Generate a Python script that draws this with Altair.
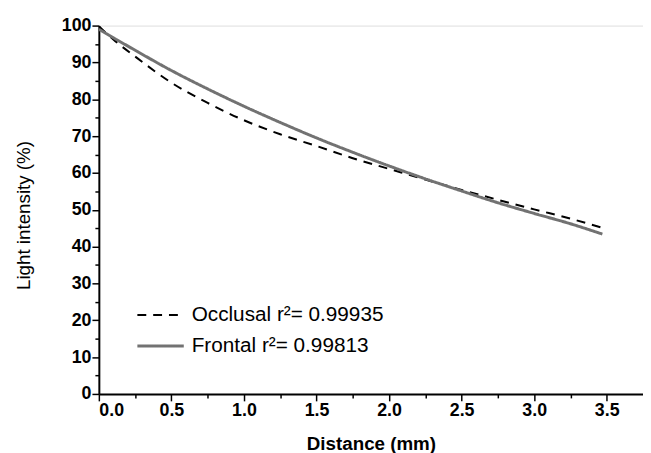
import altair as alt
import pandas as pd

# Data
distance = [0.0, 0.1, 0.25, 0.5, 0.75, 1.0, 1.25, 1.5, 1.75, 2.0, 2.25, 2.5, 2.75, 3.0, 3.25, 3.47]
occlusal = [99.8, 96.2, 91.6, 84.5, 79.0, 74.3, 70.5, 67.3, 64.0, 61.1, 58.2, 55.4, 52.7, 50.1, 47.6, 45.1]
frontal = [99.0, 96.7, 93.3, 87.8, 82.8, 78.1, 73.7, 69.5, 65.6, 61.9, 58.4, 55.1, 51.9, 49.0, 46.2, 43.4]
series_labels = ["Occlusal r\u00b2= 0.99935", "Frontal r\u00b2= 0.99813"]

x_ticks = [0.0, 0.25, 0.5, 0.75, 1.0, 1.25, 1.5, 1.75, 2.0, 2.25, 2.5, 2.75, 3.0, 3.25, 3.5]
y_ticks = list(range(0, 101, 5))

rows = []
for d, o, f in zip(distance, occlusal, frontal):
    rows.append({"distance": d, "intensity": o, "series": series_labels[0]})
    rows.append({"distance": d, "intensity": f, "series": series_labels[1]})
df = pd.DataFrame(rows)

FONT = "Liberation Sans"

legend = alt.Legend(
    title=None,
    orient="none",
    legendX=49,
    legendY=280,
    symbolType="M-2,0H2",
    symbolSize=552,
    labelOffset=18,
    labelFont=FONT,
    labelFontSize=21,
    labelColor="black",
    labelLimit=500,
    rowPadding=8,
    padding=0,
)

x_axis = alt.Axis(
    values=x_ticks,
    labelExpr="round(datum.value*100) % 50 === 0 ? format(datum.value, '.1f') : ''",
    tickSize={"condition": {"test": "round(datum.value*100) % 50 === 0", "value": 7}, "value": 4},
    tickWidth=1.5,
    tickColor="black",
    domainColor="black",
    domainWidth=2,
    labelFont=FONT,
    labelFontWeight="bold",
    labelFontSize=18,
    labelColor="black",
    labelPadding=1,
    grid=False,
    title="Distance (mm)",
    titleFont=FONT,
    titleFontSize=19,
    titleFontWeight="bold",
    titleColor="black",
    titleX=275.5,
    titleY=41,
    titleBaseline="top",
    titleAlign="center",
)

y_axis = alt.Axis(
    values=y_ticks,
    labelExpr="datum.value % 10 === 0 ? datum.label : ''",
    tickSize={"condition": {"test": "datum.value % 10 === 0", "value": 7}, "value": 4},
    tickWidth=1.5,
    tickColor="black",
    domainColor="black",
    domainWidth=2,
    labelFont=FONT,
    labelFontWeight="bold",
    labelFontSize=18,
    labelColor="black",
    labelPadding=1,
    grid=False,
    format="d",
    title="Light intensity (%)",
    titleFont=FONT,
    titleFontSize=19,
    titleFontWeight="normal",
    titleColor="black",
    titleX=-76.6,
    titleY=191.8,
    titleBaseline="middle",
    titleAlign="center",
    titleAngle=270,
)

chart = (
    alt.Chart(df)
    .mark_line(interpolate="monotone", clip=True)
    .encode(
        x=alt.X("distance:Q", scale=alt.Scale(domain=[0, 3.75], nice=False, zero=False), axis=x_axis),
        y=alt.Y("intensity:Q", scale=alt.Scale(domain=[0, 100], nice=False), axis=y_axis),
        color=alt.Color("series:N", scale=alt.Scale(domain=series_labels, range=["#000000", "#727272"]), legend=legend),
        strokeDash=alt.StrokeDash("series:N", scale=alt.Scale(domain=series_labels, range=[[9, 7], [1, 0]]), legend=legend),
        strokeWidth=alt.StrokeWidth("series:N", scale=alt.Scale(domain=series_labels, range=[2, 3]), legend=legend),
        order=alt.Order("distance:Q"),
    )
    .properties(
        width=551,
        height=373,
        autosize=alt.AutoSizeParams(type="none"),
        padding={"left": 92, "top": 15, "right": 0, "bottom": 57},
    )
    .configure_view(stroke=None)
    .configure(background="white")
)

chart.save("out.html", embed_options={"renderer": "svg", "actions": False})
